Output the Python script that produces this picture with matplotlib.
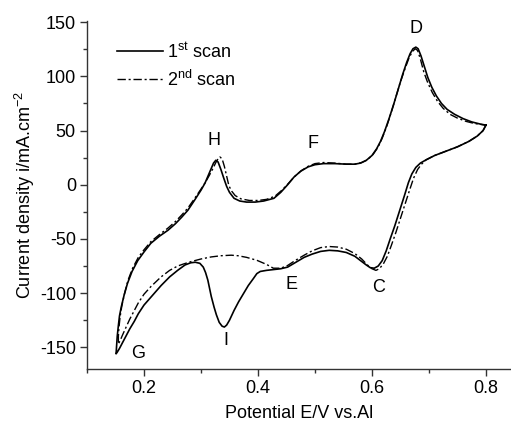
import numpy as np
import matplotlib.pyplot as plt
from matplotlib.ticker import MultipleLocator

plt.rcParams['font.family'] = ['Liberation Sans', 'DejaVu Sans']
plt.rcParams['mathtext.fontset'] = 'custom'
plt.rcParams['mathtext.rm'] = 'Liberation Sans'
plt.rcParams['mathtext.it'] = 'Liberation Sans'
plt.rcParams['axes.unicode_minus'] = False

# 1st scan: cathodic sweep from 0.8 V down to 0.15 V, then anodic back to 0.8 V
E1 = [0.800, 0.795, 0.785, 0.770, 0.750, 0.730, 0.710, 0.695, 0.685, 0.677,
      0.670, 0.664, 0.657, 0.648, 0.640, 0.632, 0.625, 0.618, 0.611, 0.604,
      0.597, 0.590, 0.580, 0.570, 0.555, 0.540, 0.525, 0.510, 0.495, 0.481,
      0.465, 0.452, 0.440, 0.427, 0.415, 0.404, 0.398, 0.392, 0.383, 0.375,
      0.366, 0.358, 0.350, 0.345, 0.341, 0.337, 0.332, 0.327, 0.323, 0.318,
      0.312, 0.308, 0.304, 0.298, 0.290, 0.282, 0.272, 0.259, 0.245, 0.230,
      0.215, 0.200, 0.190, 0.183, 0.175, 0.168, 0.162, 0.157, 0.153, 0.151,
      0.152, 0.153, 0.155, 0.157, 0.160, 0.165, 0.171, 0.179, 0.189, 0.200,
      0.212, 0.227, 0.242, 0.255, 0.266, 0.277, 0.289, 0.300, 0.307, 0.313,
      0.318, 0.322, 0.326, 0.330, 0.335, 0.340, 0.345, 0.350, 0.358, 0.368,
      0.380, 0.395, 0.410, 0.428, 0.440, 0.452, 0.463, 0.475, 0.488, 0.500,
      0.515, 0.535, 0.555, 0.570, 0.580, 0.590, 0.600, 0.608, 0.615, 0.622,
      0.630, 0.638, 0.646, 0.654, 0.661, 0.667, 0.672, 0.677, 0.681, 0.686,
      0.692, 0.698, 0.705, 0.713, 0.722, 0.732, 0.745, 0.760, 0.775, 0.790,
      0.800]
i1 = [55, 50, 45, 40, 35, 31, 27, 23, 20, 16,
      10, 2, -10, -25, -38, -50, -61, -70, -75, -77,
      -76.5, -74, -70, -66, -62.5, -61, -60.5, -61.5, -64, -67,
      -72, -76, -77.5, -78.3, -79, -80, -82, -86.5, -93, -100,
      -108, -116, -125, -129.5, -131.3, -130.5, -127, -120, -113, -103,
      -88, -81, -76, -72.5, -71.5, -72, -74, -79, -85, -93,
      -102, -111, -119, -126, -133, -140, -146, -151, -154.5, -156,
      -148, -140, -130, -121, -113, -102, -91, -80, -70, -62,
      -54, -47.5, -42, -36, -30, -23.5, -14, -5, 1.5, 9,
      15, 20, 22.6, 21, 14, 6, -1.5, -7, -12.5, -15,
      -16, -16, -15, -12.5, -7, 0, 7, 12.5, 16.5, 18.5,
      19.5, 19.5, 19, 19, 20, 22.5, 27, 33, 40, 49,
      61, 74, 88, 102, 113, 121, 125.5, 127, 125.5, 119,
      109, 99, 90, 82, 75, 69.5, 65, 61, 58, 56,
      55]

# 2nd scan
E2 = [0.800, 0.795, 0.785, 0.770, 0.750, 0.730, 0.710, 0.695, 0.687, 0.680,
      0.673, 0.666, 0.658, 0.650, 0.642, 0.634, 0.627, 0.620, 0.613, 0.607,
      0.600, 0.592, 0.582, 0.570, 0.555, 0.540, 0.525, 0.510, 0.495, 0.481,
      0.465, 0.452, 0.440, 0.427, 0.415, 0.398, 0.380, 0.365, 0.353, 0.335,
      0.318, 0.300, 0.282, 0.270, 0.259, 0.245, 0.230, 0.212, 0.200, 0.190,
      0.183, 0.175, 0.168, 0.162, 0.158, 0.155,
      0.155, 0.156, 0.158, 0.161, 0.166, 0.172, 0.180, 0.190, 0.200, 0.212,
      0.227, 0.242, 0.255, 0.266, 0.277, 0.289, 0.300, 0.308, 0.315, 0.321,
      0.326, 0.330, 0.333, 0.337, 0.341, 0.345, 0.349, 0.354, 0.360, 0.370,
      0.385, 0.400, 0.415, 0.430, 0.442, 0.453, 0.464, 0.476, 0.488, 0.500,
      0.515, 0.535, 0.555, 0.570, 0.582, 0.592, 0.602, 0.611, 0.618, 0.626,
      0.634, 0.642, 0.650, 0.658, 0.665, 0.671, 0.676, 0.680, 0.685, 0.691,
      0.698, 0.706, 0.715, 0.725, 0.737, 0.750, 0.765, 0.780, 0.800]
i2 = [55, 50, 45, 40, 35, 31, 27, 23, 19, 14,
      6, -5, -18, -31, -44, -56, -66, -73, -77.5, -79,
      -77.5, -74, -68.5, -63.5, -59.5, -57.5, -57, -58, -61, -65,
      -70, -74.5, -77, -77, -73.5, -69.7, -67, -65.5, -65, -65.5,
      -66.6, -68.5, -71, -73, -75, -79, -85, -94, -101, -109,
      -116, -124, -132, -139, -144, -147,
      -140, -132, -122, -112, -100, -88, -77, -67, -60, -52.5,
      -46, -40, -34, -28, -21.5, -12.5, -4, 2.5, 9, 15,
      20.5, 24, 25.7, 24, 17, 8, -1, -6, -10, -13,
      -14.5, -14.5, -13.5, -10.5, -5, 1, 7.5, 13, 17, 19.5,
      20.5, 20, 19, 19, 20.5, 23, 28, 35, 43, 54,
      67, 81, 95, 107, 117, 123, 125.5, 124, 116, 104,
      94, 85, 77, 70.5, 65, 61.5, 58.5, 56.5, 55]

peak_labels = ['D', 'H', 'F', 'E', 'C', 'I', 'G']
peak_E = [0.677, 0.323, 0.496, 0.458, 0.612, 0.344, 0.189]
peak_i = [144, 41, 38, -92, -95, -144, -156]

fig = plt.figure(figsize=(5.11, 4.30), dpi=100)
ax = fig.add_axes([0.1703, 0.1419, 0.8297, 0.809])

ax.plot(E1, i1, color='black', lw=1.2, label='1$^{\\rm st}$ scan')
ax.plot(E2, i2, color='black', lw=1.0, linestyle=(0, (6, 2, 1.5, 2)),
        label='2$^{\\rm nd}$ scan')

for lab, x, y in zip(peak_labels, peak_E, peak_i):
    ax.text(x, y, lab, fontsize=13, ha='center', va='center')

ax.set_xlim(0.1, 0.844)
ax.set_ylim(-170, 151)
ax.xaxis.set_major_locator(MultipleLocator(0.2))
ax.xaxis.set_minor_locator(MultipleLocator(0.1))
ax.yaxis.set_major_locator(MultipleLocator(50))
ax.yaxis.set_minor_locator(MultipleLocator(25))
ax.spines['top'].set_visible(False)
ax.spines['right'].set_visible(False)
for s in ['left', 'bottom']:
    ax.spines[s].set_linewidth(1.0)
    ax.spines[s].set_color('#333333')
ax.tick_params(which='major', length=5, width=1, labelsize=13, color='#333333', pad=3)
ax.tick_params(which='minor', length=3, width=1, color='#333333')
ax.set_xlabel('Potential E/V vs.Al', fontsize=13, labelpad=6)
ax.set_ylabel('Current density i/mA.cm$^{-2}$', fontsize=13, labelpad=2)

ax.legend(loc='upper left', bbox_to_anchor=(0.071, 0.94), frameon=False,
          borderaxespad=0, borderpad=0,
          fontsize=13, handlelength=2.55, handletextpad=0.2, labelspacing=0.45)

plt.savefig('out.png', dpi=100)
